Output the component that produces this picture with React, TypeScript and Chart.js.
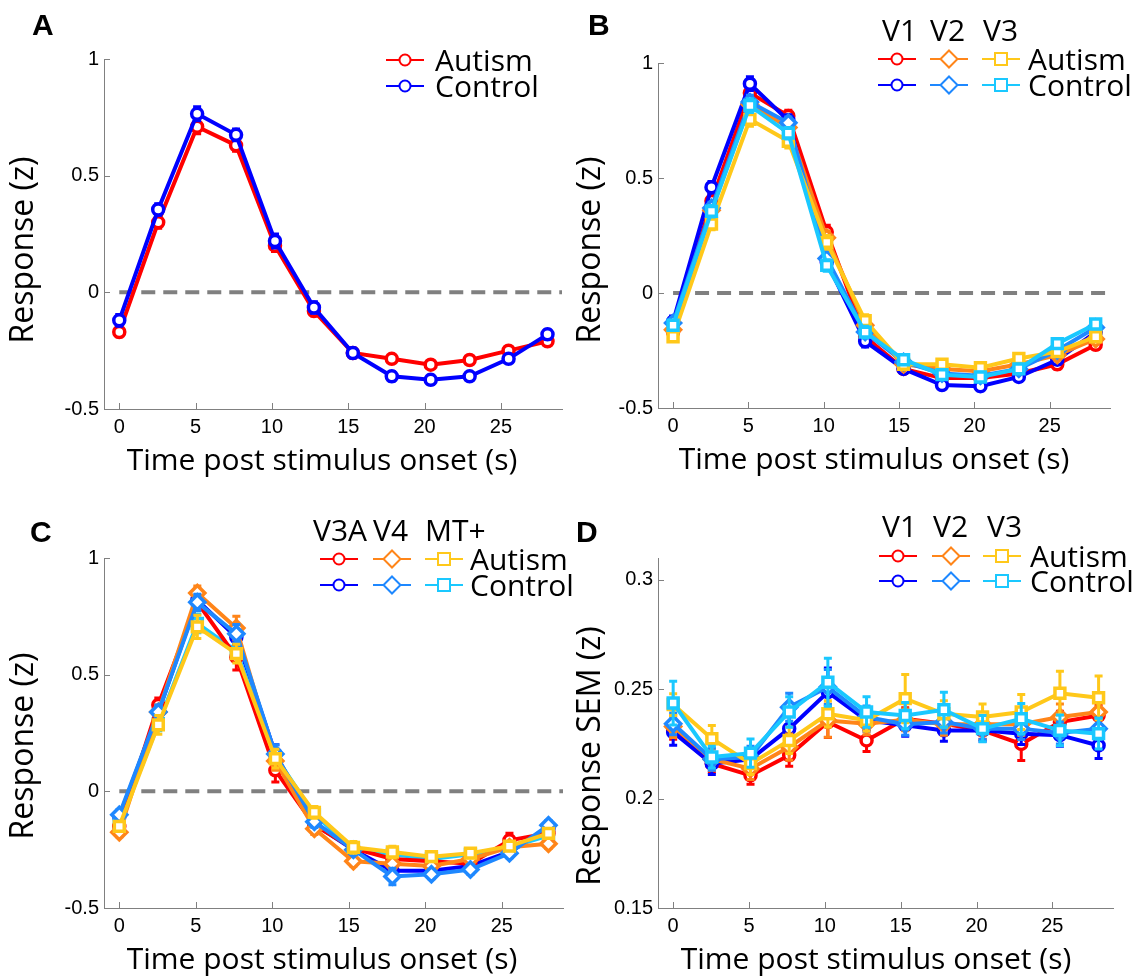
import React, { useEffect, useRef } from 'react';
import { Chart, registerables } from 'chart.js';
Chart.register(...registerables);

// ---------- shared categories / ticks ----------
const timePoints = [0, 2.55, 5.1, 7.65, 10.2, 12.75, 15.3, 17.85, 20.4, 22.95, 25.5, 28.05];
const xTickValues = [0, 5, 10, 15, 20, 25];
const yTicksResponse = [-0.5, 0, 0.5, 1];
const yTicksSem = [0.15, 0.2, 0.25, 0.3];
const zeroLineX = [0, 29];

// ---------- Panel A ----------
const autismA = [-0.17, 0.30, 0.71, 0.63, 0.20, -0.08, -0.26, -0.285, -0.31, -0.29, -0.25, -0.21];
const autismAErr = [0.02, 0.025, 0.03, 0.025, 0.025, 0.02, 0.02, 0.015, 0.015, 0.015, 0.015, 0.015];
const controlA = [-0.12, 0.355, 0.765, 0.675, 0.22, -0.065, -0.26, -0.36, -0.375, -0.36, -0.285, -0.18];
const controlAErr = [0.025, 0.025, 0.03, 0.025, 0.03, 0.025, 0.02, 0.02, 0.02, 0.015, 0.015, 0.02];

// ---------- Panel B (V1, V2, V3) ----------
const v1AutB = [-0.17, 0.40, 0.87, 0.77, 0.265, -0.19, -0.33, -0.37, -0.37, -0.35, -0.31, -0.225];
const v1AutBErr = [0.02, 0.03, 0.03, 0.025, 0.03, 0.025, 0.02, 0.02, 0.02, 0.02, 0.02, 0.02];
const v1ConB = [-0.125, 0.46, 0.91, 0.75, 0.135, -0.21, -0.33, -0.40, -0.405, -0.365, -0.29, -0.17];
const v1ConBErr = [0.025, 0.025, 0.03, 0.025, 0.025, 0.025, 0.02, 0.02, 0.02, 0.02, 0.02, 0.02];
const v2AutB = [-0.16, 0.36, 0.82, 0.72, 0.24, -0.14, -0.31, -0.33, -0.34, -0.31, -0.27, -0.20];
const v2AutBErr = [0.02, 0.025, 0.03, 0.025, 0.03, 0.025, 0.02, 0.02, 0.02, 0.02, 0.02, 0.02];
const v2ConB = [-0.13, 0.37, 0.83, 0.74, 0.15, -0.17, -0.30, -0.35, -0.36, -0.33, -0.25, -0.15];
const v2ConBErr = [0.02, 0.025, 0.03, 0.025, 0.025, 0.025, 0.02, 0.02, 0.02, 0.02, 0.02, 0.02];
const v3AutB = [-0.19, 0.30, 0.755, 0.66, 0.22, -0.12, -0.31, -0.31, -0.325, -0.285, -0.255, -0.19];
const v3AutBErr = [0.02, 0.025, 0.03, 0.03, 0.03, 0.025, 0.02, 0.02, 0.02, 0.02, 0.02, 0.02];
const v3ConB = [-0.14, 0.355, 0.815, 0.695, 0.12, -0.17, -0.29, -0.355, -0.365, -0.33, -0.22, -0.135];
const v3ConBErr = [0.02, 0.025, 0.03, 0.025, 0.025, 0.025, 0.02, 0.02, 0.02, 0.02, 0.02, 0.02];

// ---------- Panel C (V3A, V4, MT+) ----------
const v3aAutC = [-0.15, 0.37, 0.81, 0.575, 0.09, -0.145, -0.245, -0.29, -0.30, -0.31, -0.21, -0.18];
const v3aAutCErr = [0.02, 0.03, 0.035, 0.055, 0.05, 0.025, 0.02, 0.02, 0.02, 0.02, 0.03, 0.02];
const v3aConC = [-0.11, 0.34, 0.82, 0.66, 0.16, -0.14, -0.25, -0.34, -0.34, -0.32, -0.26, -0.16];
const v3aConCErr = [0.02, 0.03, 0.035, 0.04, 0.04, 0.025, 0.02, 0.03, 0.02, 0.02, 0.02, 0.02];
const v4AutC = [-0.175, 0.34, 0.85, 0.70, 0.13, -0.16, -0.30, -0.31, -0.32, -0.29, -0.24, -0.225];
const v4AutCErr = [0.02, 0.03, 0.03, 0.05, 0.04, 0.025, 0.02, 0.02, 0.02, 0.02, 0.02, 0.02];
const v4ConC = [-0.10, 0.34, 0.81, 0.675, 0.16, -0.13, -0.25, -0.365, -0.355, -0.335, -0.265, -0.145];
const v4ConCErr = [0.02, 0.03, 0.035, 0.04, 0.04, 0.025, 0.02, 0.035, 0.02, 0.02, 0.02, 0.02];
const mtAutC = [-0.15, 0.285, 0.705, 0.59, 0.14, -0.09, -0.24, -0.26, -0.28, -0.265, -0.235, -0.18];
const mtAutCErr = [0.02, 0.04, 0.05, 0.04, 0.04, 0.025, 0.025, 0.025, 0.02, 0.02, 0.02, 0.02];
const mtConC = [-0.14, 0.29, 0.72, 0.60, 0.15, -0.10, -0.245, -0.27, -0.29, -0.27, -0.24, -0.19];
const mtConCErr = [0.02, 0.03, 0.04, 0.035, 0.035, 0.025, 0.02, 0.02, 0.02, 0.02, 0.02, 0.02];

// ---------- Panel D (SEM, V1, V2, V3) ----------
const v1AutD = [0.2312, 0.216, 0.2106, 0.2198, 0.235, 0.2266, 0.2365, 0.2342, 0.2312, 0.225, 0.235, 0.238];
const v1AutDErr = [0.004, 0.004, 0.004, 0.005, 0.007, 0.005, 0.005, 0.004, 0.004, 0.0076, 0.005, 0.005];
const v1ConD = [0.2304, 0.216, 0.218, 0.232, 0.2487, 0.2358, 0.2335, 0.2312, 0.2312, 0.2297, 0.229, 0.2243];
const v1ConDErr = [0.006, 0.005, 0.004, 0.006, 0.011, 0.005, 0.005, 0.005, 0.005, 0.005, 0.005, 0.006];
const v2AutD = [0.233, 0.218, 0.2137, 0.2236, 0.2357, 0.2342, 0.236, 0.234, 0.234, 0.234, 0.2373, 0.2396];
const v2AutDErr = [0.005, 0.005, 0.005, 0.006, 0.0076, 0.005, 0.005, 0.005, 0.005, 0.005, 0.006, 0.006];
const v2ConD = [0.2342, 0.218, 0.219, 0.2418, 0.251, 0.2373, 0.234, 0.235, 0.232, 0.232, 0.23, 0.232];
const v2ConDErr = [0.005, 0.005, 0.005, 0.0064, 0.008, 0.005, 0.005, 0.005, 0.005, 0.005, 0.005, 0.005];
const v3AutD = [0.243, 0.2274, 0.216, 0.2266, 0.2388, 0.2358, 0.2457, 0.2388, 0.2373, 0.2396, 0.2482, 0.2461];
const v3AutDErr = [0.005, 0.006, 0.005, 0.006, 0.006, 0.005, 0.011, 0.006, 0.006, 0.008, 0.01, 0.01];
const v3ConD = [0.2437, 0.219, 0.2208, 0.2396, 0.2532, 0.2396, 0.238, 0.2406, 0.232, 0.2365, 0.2312, 0.2297];
const v3ConDErr = [0.01, 0.005, 0.0065, 0.007, 0.011, 0.007, 0.006, 0.008, 0.006, 0.007, 0.007, 0.007];

// ---------- styling ----------
const RED = '#FF0000';
const BLUE = '#0000FF';
const ORANGE = '#FF8519';
const DODGER = '#1E88FF';
const GOLD = '#FFC81A';
const CYAN = '#1AC8FF';
const AXIS_GRAY = '#808080';
const SANS = '"Open Sans", "Noto Sans", sans-serif';
const TICKFONT = '"Liberation Sans", Arial, sans-serif';
const CW = 600; // canvas width (panels overlap; canvases are transparent)
const CH = 488;
const PANEL_W = 568;

type Series = { label: string; values: number[]; err: number[]; color: string; style: string };

const markerRadius: Record<string, number> = { circle: 5.5, rectRot: 7.5, rect: 7 };

function drawMarker(ctx: CanvasRenderingContext2D, style: string, x: number, y: number, size: number) {
  ctx.beginPath();
  if (style === 'circle') {
    ctx.arc(x, y, size, 0, Math.PI * 2);
  } else if (style === 'rectRot') {
    ctx.moveTo(x, y - size);
    ctx.lineTo(x + size, y);
    ctx.lineTo(x, y + size);
    ctx.lineTo(x - size, y);
    ctx.closePath();
  } else {
    ctx.rect(x - size, y - size, size * 2, size * 2);
  }
  ctx.fill();
  ctx.stroke();
}

type PanelCfg = {
  left: number; top: number;
  area: { left: number; right: number; top: number; bottom: number };
  yMin: number; yMax: number; yTicks: number[]; zeroLine: boolean;
  series: Series[];
  letter: string; letterX: number; letterY: number;
  xTitle: string; xTitleX: number; xTitleY: number;
  yTitle: string; yTitleX: number; yTitleY: number;
  headers: { text: string; x: number }[]; headerY: number;
  rows: { y: number; text: string; items: { cx: number; color: string; style: string }[] }[];
  legendTextX: number;
};

function makeDecor(cfg: PanelCfg) {
  return {
    id: 'decor' + cfg.letter,
    beforeDatasetsDraw(chart: any) {
      const ctx = chart.ctx;
      const xs = chart.scales.x;
      const ys = chart.scales.y;
      const ca = chart.chartArea;
      ctx.save();
      ctx.strokeStyle = AXIS_GRAY;
      ctx.lineWidth = 1;
      ctx.beginPath();
      for (const v of xTickValues) {
        const px = Math.round(xs.getPixelForValue(v)) + 0.5;
        ctx.moveTo(px, ca.bottom);
        ctx.lineTo(px, ca.bottom - 6);
      }
      for (const v of cfg.yTicks) {
        const py = Math.round(ys.getPixelForValue(v)) + 0.5;
        ctx.moveTo(ca.left, py);
        ctx.lineTo(ca.left + 6, py);
      }
      ctx.stroke();
      ctx.restore();
    },
    beforeDatasetDraw(chart: any, args: any) {
      const ds = chart.data.datasets[args.index];
      if (!ds.errors) return;
      const ctx = chart.ctx;
      const xs = chart.scales.x;
      const ys = chart.scales.y;
      ctx.save();
      ctx.strokeStyle = ds.borderColor;
      ctx.lineWidth = 3;
      ctx.beginPath();
      ds.data.forEach((p: any, i: number) => {
        const e = ds.errors[i];
        const px = xs.getPixelForValue(p.x);
        const y1 = ys.getPixelForValue(p.y + e);
        const y2 = ys.getPixelForValue(p.y - e);
        ctx.moveTo(px, y1); ctx.lineTo(px, y2);
        ctx.moveTo(px - 4, y1); ctx.lineTo(px + 4, y1);
        ctx.moveTo(px - 4, y2); ctx.lineTo(px + 4, y2);
      });
      ctx.stroke();
      ctx.restore();
    },
    afterDraw(chart: any) {
      const ctx = chart.ctx;
      ctx.save();
      // panel letter
      ctx.fillStyle = '#000';
      ctx.font = 'bold 30px "Liberation Sans", Arial, sans-serif';
      ctx.textAlign = 'left';
      ctx.textBaseline = 'alphabetic';
      ctx.fillText(cfg.letter, cfg.letterX, cfg.letterY);
      // axis titles
      ctx.font = '30px ' + SANS;
      ctx.textAlign = 'center';
      ctx.fillText(cfg.xTitle, cfg.xTitleX, cfg.xTitleY);
      ctx.save();
      ctx.translate(cfg.yTitleX, cfg.yTitleY);
      ctx.rotate(-Math.PI / 2);
      ctx.font = '32px ' + SANS;
      ctx.fillText(cfg.yTitle, 0, 0);
      ctx.restore();
      // legend headers
      ctx.font = '30px ' + SANS;
      ctx.textAlign = 'left';
      for (const h of cfg.headers) ctx.fillText(h.text, h.x, cfg.headerY);
      // legend rows
      for (const r of cfg.rows) {
        for (const it of r.items) {
          ctx.strokeStyle = it.color;
          ctx.lineWidth = 2;
          ctx.beginPath();
          ctx.moveTo(it.cx - 19, r.y);
          ctx.lineTo(it.cx + 19, r.y);
          ctx.stroke();
          ctx.fillStyle = '#fff';
          const s = it.style === 'circle' ? 5.5 : it.style === 'rectRot' ? 8.5 : 6;
          drawMarker(ctx, it.style, it.cx, r.y, s);
        }
        ctx.fillStyle = '#000';
        ctx.fillText(r.text, cfg.legendTextX, r.y + 10.5);
      }
      ctx.restore();
    },
  };
}

function Panel({ cfg }: { cfg: PanelCfg }) {
  const ref = useRef<HTMLCanvasElement>(null);
  useEffect(() => {
    const n = cfg.series.length;
    const datasets: any[] = cfg.series.map((s, i) => ({
      label: s.label,
      data: timePoints.map((t, k) => ({ x: t, y: s.values[k] })),
      errors: s.err,
      borderColor: s.color,
      backgroundColor: s.color,
      borderWidth: 4,
      tension: 0,
      pointStyle: s.style,
      pointRadius: markerRadius[s.style],
      pointHoverRadius: markerRadius[s.style],
      pointBorderWidth: 3.5,
      pointBackgroundColor: '#ffffff',
      pointBorderColor: s.color,
      order: n - i,
    }));
    if (cfg.zeroLine) {
      datasets.push({
        label: 'zero',
        data: zeroLineX.map((x) => ({ x, y: 0 })),
        borderColor: AXIS_GRAY,
        borderWidth: 4,
        borderDash: [14, 8],
        pointRadius: 0,
        order: 1000,
      });
    }
    const a = cfg.area;
    const chart = new Chart(ref.current!, {
      type: 'line',
      data: { datasets },
      options: {
        animation: false,
        responsive: false,
        devicePixelRatio: 1,
        events: [],
        layout: { padding: { left: 0, top: a.top, right: CW - a.right, bottom: 0 } },
        plugins: { legend: { display: false }, tooltip: { enabled: false } },
        scales: {
          x: {
            type: 'linear',
            min: -1,
            max: 29,
            border: { display: true, color: AXIS_GRAY, width: 1 },
            grid: { display: false, drawTicks: false },
            ticks: { color: '#000', font: { family: TICKFONT, size: 20 }, padding: 6, maxRotation: 0, callback: (v: any) => String(v) },
            afterBuildTicks: (s: any) => { s.ticks = xTickValues.map((v) => ({ value: v })); },
            afterFit: (s: any) => { s.height = CH - a.bottom; },
          },
          y: {
            type: 'linear',
            min: cfg.yMin,
            max: cfg.yMax,
            border: { display: true, color: AXIS_GRAY, width: 1 },
            grid: { display: false, drawTicks: false },
            ticks: { color: '#000', font: { family: TICKFONT, size: 20 }, padding: 5, callback: (v: any) => String(v) },
            afterBuildTicks: (s: any) => { s.ticks = cfg.yTicks.map((v) => ({ value: v })); },
            afterFit: (s: any) => { s.width = a.left; },
          },
        },
      },
      plugins: [makeDecor(cfg)],
    } as any);
    return () => chart.destroy();
  }, [cfg]);
  return (
    <canvas
      ref={ref}
      width={CW}
      height={CH}
      style={{ position: 'absolute', left: cfg.left, top: cfg.top, width: CW, height: CH }}
    />
  );
}

const panels: PanelCfg[] = [
  {
    left: 0, top: 0,
    area: { left: 104, right: 562, top: 59, bottom: 409 },
    yMin: -0.5, yMax: 1, yTicks: yTicksResponse, zeroLine: true,
    series: [
      { label: 'Autism', values: autismA, err: autismAErr, color: RED, style: 'circle' },
      { label: 'Control', values: controlA, err: controlAErr, color: BLUE, style: 'circle' },
    ],
    letter: 'A', letterX: 32, letterY: 35,
    xTitle: 'Time post stimulus onset (s)', xTitleX: 322, xTitleY: 470,
    yTitle: 'Response (z)', yTitleX: 33, yTitleY: 250,
    headers: [], headerY: 0,
    rows: [
      { y: 60, text: 'Autism', items: [{ cx: 405, color: RED, style: 'circle' }] },
      { y: 86, text: 'Control', items: [{ cx: 405, color: BLUE, style: 'circle' }] },
    ],
    legendTextX: 435,
  },
  {
    left: PANEL_W, top: 0,
    area: { left: 90, right: 542, top: 63, bottom: 408 },
    yMin: -0.5, yMax: 1, yTicks: yTicksResponse, zeroLine: true,
    series: [
      { label: 'V1 Autism', values: v1AutB, err: v1AutBErr, color: RED, style: 'circle' },
      { label: 'V1 Control', values: v1ConB, err: v1ConBErr, color: BLUE, style: 'circle' },
      { label: 'V2 Autism', values: v2AutB, err: v2AutBErr, color: ORANGE, style: 'rectRot' },
      { label: 'V2 Control', values: v2ConB, err: v2ConBErr, color: DODGER, style: 'rectRot' },
      { label: 'V3 Autism', values: v3AutB, err: v3AutBErr, color: GOLD, style: 'rect' },
      { label: 'V3 Control', values: v3ConB, err: v3ConBErr, color: CYAN, style: 'rect' },
    ],
    letter: 'B', letterX: 20, letterY: 35,
    xTitle: 'Time post stimulus onset (s)', xTitleX: 306, xTitleY: 469,
    yTitle: 'Response (z)', yTitleX: 32, yTitleY: 250,
    headers: [{ text: 'V1', x: 314 }, { text: 'V2', x: 362 }, { text: 'V3', x: 415 }], headerY: 41,
    rows: [
      { y: 59, text: 'Autism', items: [{ cx: 329, color: RED, style: 'circle' }, { cx: 381, color: ORANGE, style: 'rectRot' }, { cx: 433, color: GOLD, style: 'rect' }] },
      { y: 85, text: 'Control', items: [{ cx: 329, color: BLUE, style: 'circle' }, { cx: 381, color: DODGER, style: 'rectRot' }, { cx: 433, color: CYAN, style: 'rect' }] },
    ],
    legendTextX: 460,
  },
  {
    left: 0, top: CH,
    area: { left: 104, right: 563, top: 70, bottom: 420 },
    yMin: -0.5, yMax: 1, yTicks: yTicksResponse, zeroLine: true,
    series: [
      { label: 'V3A Control', values: v3aConC, err: v3aConCErr, color: BLUE, style: 'circle' },
      { label: 'MT+ Control', values: mtConC, err: mtConCErr, color: CYAN, style: 'rect' },
      { label: 'V3A Autism', values: v3aAutC, err: v3aAutCErr, color: RED, style: 'circle' },
      { label: 'V4 Autism', values: v4AutC, err: v4AutCErr, color: ORANGE, style: 'rectRot' },
      { label: 'V4 Control', values: v4ConC, err: v4ConCErr, color: DODGER, style: 'rectRot' },
      { label: 'MT+ Autism', values: mtAutC, err: mtAutCErr, color: GOLD, style: 'rect' },
    ],
    letter: 'C', letterX: 30, letterY: 54,
    xTitle: 'Time post stimulus onset (s)', xTitleX: 322, xTitleY: 481,
    yTitle: 'Response (z)', yTitleX: 33, yTitleY: 258,
    headers: [{ text: 'V3A', x: 313 }, { text: 'V4', x: 373 }, { text: 'MT+', x: 425 }], headerY: 53,
    rows: [
      { y: 71, text: 'Autism', items: [{ cx: 339, color: RED, style: 'circle' }, { cx: 392, color: ORANGE, style: 'rectRot' }, { cx: 444, color: GOLD, style: 'rect' }] },
      { y: 97, text: 'Control', items: [{ cx: 339, color: BLUE, style: 'circle' }, { cx: 392, color: DODGER, style: 'rectRot' }, { cx: 444, color: CYAN, style: 'rect' }] },
    ],
    legendTextX: 470,
  },
  {
    left: PANEL_W, top: CH,
    area: { left: 90, right: 545, top: 70, bottom: 420 },
    yMin: 0.15, yMax: 0.31, yTicks: yTicksSem, zeroLine: false,
    series: [
      { label: 'V1 Autism', values: v1AutD, err: v1AutDErr, color: RED, style: 'circle' },
      { label: 'V1 Control', values: v1ConD, err: v1ConDErr, color: BLUE, style: 'circle' },
      { label: 'V2 Autism', values: v2AutD, err: v2AutDErr, color: ORANGE, style: 'rectRot' },
      { label: 'V2 Control', values: v2ConD, err: v2ConDErr, color: DODGER, style: 'rectRot' },
      { label: 'V3 Autism', values: v3AutD, err: v3AutDErr, color: GOLD, style: 'rect' },
      { label: 'V3 Control', values: v3ConD, err: v3ConDErr, color: CYAN, style: 'rect' },
    ],
    letter: 'D', letterX: 8, letterY: 54,
    xTitle: 'Time post stimulus onset (s)', xTitleX: 308, xTitleY: 481,
    yTitle: 'Response SEM (z)', yTitleX: 32, yTitleY: 268,
    headers: [{ text: 'V1', x: 314 }, { text: 'V2', x: 365 }, { text: 'V3', x: 419 }], headerY: 49,
    rows: [
      { y: 68, text: 'Autism', items: [{ cx: 330, color: RED, style: 'circle' }, { cx: 383, color: ORANGE, style: 'rectRot' }, { cx: 434, color: GOLD, style: 'rect' }] },
      { y: 93, text: 'Control', items: [{ cx: 330, color: BLUE, style: 'circle' }, { cx: 383, color: DODGER, style: 'rectRot' }, { cx: 434, color: CYAN, style: 'rect' }] },
    ],
    legendTextX: 462,
  },
];

export default function App() {
  return (
    <div style={{ position: 'absolute', left: 0, top: 0, width: 1136, height: 976, background: '#fff', overflow: 'hidden' }}>
      {panels.map((p) => (
        <Panel key={p.letter} cfg={p} />
      ))}
    </div>
  );
}
